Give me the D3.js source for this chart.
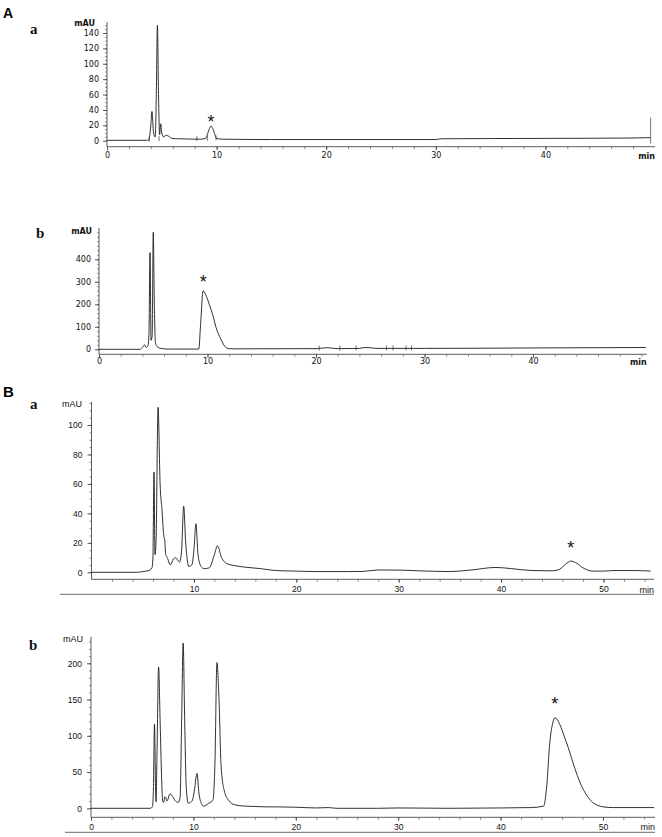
<!DOCTYPE html>
<html>
<head>
<meta charset="utf-8">
<script src="https://cdn.jsdelivr.net/npm/d3@7"></script>
<style>
  body { margin: 0; background: #fff; }
  svg { display: block; }
</style>
</head>
<body>
<div id="chart"></div>
<script>
// traces: [time (min), signal (mAU)]
var traceAa = [[0,0.5],[3.6,0.5],[3.8,1],[4.0,20],[4.1,38],[4.25,10],[4.4,5],[4.5,60],[4.6,150],[4.7,60],
  [4.8,8],[4.9,22],[5.0,10],[5.15,5],[5.4,7],[5.6,6],[5.9,3],[6.5,2.5],[8.5,2],[9.0,3],[9.3,14],[9.5,19],
  [9.7,14],[10.0,3],[10.5,2],[15,1.5],[20,1.5],[30,1.5],[30.5,2.5],[40,3],[48,3.5],[49.6,4]];

var traceAb = [[0,0],[3.8,0],[4.0,8],[4.2,20],[4.35,8],[4.5,15],[4.6,60],[4.7,430],[4.8,40],[4.9,60],
  [5.0,520],[5.1,200],[5.2,30],[5.4,10],[5.8,3],[6.5,1],[9.2,1],[9.35,100],[9.6,260],[9.9,235],[10.2,195],
  [10.5,150],[10.8,95],[11.2,48],[11.5,20],[11.8,5],[12.3,2],[20,3],[20.5,5],[21,7],[21.5,5],[22,3],
  [24,4],[24.5,8],[25,7],[25.6,4],[30,4],[40,6],[50.4,8]];

var traceBa = [[0,0],[4.5,0],[5.0,0.5],[5.5,1],[5.9,3],[6.0,10],[6.1,68],[6.2,12],[6.3,20],[6.5,112],
  [6.7,60],[6.9,41],[7.05,25],[7.15,22],[7.25,12],[7.4,10],[7.7,5],[8.0,9],[8.2,10],[8.6,7],[8.8,15],
  [9.0,45],[9.2,20],[9.5,4],[9.8,5],[10.0,15],[10.2,33],[10.4,12],[10.7,4],[11.0,2.5],[11.5,3],[12.0,12],
  [12.3,18],[12.7,10],[13.2,6],[14,4.5],[15,3.5],[16.5,2.5],[18,1.2],[20,0.8],[22,0.5],[25,0.5],[26.5,0.6],
  [28,1.6],[30,1.5],[32,1.0],[35,0.5],[37,1.5],[39.5,3.3],[41,2.5],[43,1.2],[45,1.0],[45.7,2],[46.3,5.5],
  [46.8,7.6],[47.3,6.5],[48,3],[49,0.8],[50,0.8],[51,1.2],[53,1.2],[54.6,0.8]];

var traceBb = [[0,0],[5.8,0],[6.0,2],[6.1,30],[6.2,116],[6.3,30],[6.35,9],[6.45,80],[6.6,195],[6.75,120],
  [6.9,40],[7.0,10],[7.1,8],[7.2,16],[7.3,15],[7.4,10],[7.5,12],[7.7,20],[7.9,18],[8.2,11],[8.5,8],[8.7,15],
  [8.85,120],[9.0,228],[9.15,120],[9.3,30],[9.5,7],[9.7,8],[9.9,11],[10.1,25],[10.35,48],[10.55,20],
  [10.8,6],[11.0,3],[11.5,7],[11.9,11],[12.1,60],[12.3,201],[12.5,150],[12.7,60],[13.0,25],[13.5,10],
  [14,5],[15,3],[16,2.5],[17,2],[18,2],[20,1.5],[22,0.5],[23.2,1],[24,0],[28,0],[30,0.5],[35,0],[40,0.5],
  [43,1],[44.2,3],[44.5,30],[44.8,90],[45.1,118],[45.3,125],[45.5,123],[45.8,115],[46.2,100],[46.6,84],
  [47.0,66],[47.5,45],[48.0,28],[48.5,16],[49.0,8],[49.5,4],[50.0,2],[51,1],[55,1]];

// asterisk peaks [time, mAU]
var starAa = [9.5, 19], starAb = [9.6, 260], starBa = [46.8, 7.6], starBb = [45.3, 125];

// integrator marks on the baseline [time, mAU]
var marksAa = [[3.85,1],[4.75,2],[8.2,2],[9.15,2.5],[9.95,3]];
var marksAb = [[20.3,3],[22.2,3],[23.7,4],[26.5,4],[27.1,4],[28.3,4],[28.8,4]];

// tick labels
var ticksAa = [0,20,40,60,80,100,120,140];
var ticksAb = [0,100,200,300,400];
var ticksBa = [0,20,40,60,80,100];
var ticksBb = [0,50,100,150,200];
var timeTicksA = [0,10,20,30,40];
var timeTicksBa = [10,20,30,40,50];
var timeTicksBb = [0,10,20,30,40,50];

var svg = d3.select("#chart").append("svg")
    .attr("width", 662)
    .attr("height", 837);

svg.append("rect").attr("width", 662).attr("height", 837).attr("fill", "#fff");

function drawPanel(p) {
  var g = svg.append("g");

  var x = d3.scaleLinear().domain([0, 50]).range([p.x0, p.x50]);
  var y = d3.scaleLinear().domain([0, p.yRef]).range([p.y0, p.yRefPx]);

  // y axis line from x axis up to top
  g.append("line")
      .attr("x1", p.x0).attr("x2", p.x0)
      .attr("y1", p.axisY).attr("y2", p.yTopPx)
      .attr("stroke", "#333").attr("stroke-width", 0.8);

  // minor y ticks
  var yMax = y.invert(p.yTopPx);
  g.append("g")
      .attr("transform", "translate(" + p.x0 + ",0)")
      .call(d3.axisLeft(y).tickValues(d3.range(0, yMax, p.yMinor)).tickSize(2).tickFormat(""))
      .call(function(a) { a.select(".domain").remove(); a.selectAll("line").attr("stroke", "#444").attr("stroke-width", 0.6); });

  g.append("g")
      .attr("transform", "translate(" + p.x0 + ",0)")
      .call(d3.axisLeft(y).tickValues(p.yTicks).tickSize(4).tickPadding(p.yPad))
      .call(function(a) {
        a.select(".domain").remove();
        a.selectAll("line").attr("stroke", "#333").attr("stroke-width", 0.8);
        a.selectAll("text").attr("font-family", p.font).attr("font-size", p.fs).attr("fill", "#111");
      });

  // x axis
  g.append("line")
      .attr("x1", p.x0).attr("x2", p.xEndPx)
      .attr("y1", p.axisY).attr("y2", p.axisY)
      .attr("stroke", "#333").attr("stroke-width", 0.8);

  var xMax = x.invert(p.xEndPx);
  g.append("g")
      .attr("transform", "translate(0," + p.axisY + ")")
      .call(d3.axisBottom(x).tickValues(d3.range(2, xMax, 2)).tickSize(2.5).tickFormat(""))
      .call(function(a) { a.select(".domain").remove(); a.selectAll("line").attr("stroke", "#444").attr("stroke-width", 0.6); });

  g.append("g")
      .attr("transform", "translate(0," + p.axisY + ")")
      .call(d3.axisBottom(x).tickValues(p.xTicks).tickSize(3.5).tickPadding(p.xPad))
      .call(function(a) {
        a.select(".domain").remove();
        a.selectAll("line").attr("stroke", "#333").attr("stroke-width", 0.8);
        a.selectAll("text").attr("font-family", p.font).attr("font-size", p.fs).attr("fill", "#111");
      });

  if (p.underline) {
    g.append("line")
        .attr("x1", p.underline[0]).attr("x2", p.xEndPx)
        .attr("y1", p.underline[1]).attr("y2", p.underline[1])
        .attr("stroke", "#444").attr("stroke-width", 0.8);
  }

  // "min" at the right end of the time axis
  g.append("text")
      .attr("x", p.xEndPx)
      .attr("y", p.minY)
      .attr("text-anchor", "end")
      .attr("font-family", p.font)
      .attr("font-weight", p.unitWeight)
      .attr("font-size", p.unitFs)
      .attr("fill", "#111")
      .text("min");

  // "mAU" at the top of the y axis
  g.append("text")
      .attr("x", p.mauX)
      .attr("y", p.mauY)
      .attr("text-anchor", "end")
      .attr("font-family", p.font)
      .attr("font-weight", p.unitWeight)
      .attr("font-size", p.unitFs)
      .attr("fill", "#111")
      .text("mAU");

  // trace
  var line = d3.line()
      .x(function(d) { return x(d[0]); })
      .y(function(d) { return y(d[1]); })
      .curve(d3.curveMonotoneX);

  g.append("path")
      .datum(p.trace)
      .attr("fill", "none")
      .attr("stroke", "#1a1a1a")
      .attr("stroke-width", 0.9)
      .attr("d", line);

  if (p.marks) {
    g.selectAll(".mark")
      .data(p.marks)
      .enter().append("line")
        .attr("x1", function(d) { return x(d[0]); })
        .attr("x2", function(d) { return x(d[0]); })
        .attr("y1", function(d) { return y(d[1]) - 3; })
        .attr("y2", function(d) { return y(d[1]) + 2; })
        .attr("stroke", "#333").attr("stroke-width", 0.7);
  }

  if (p.endMark) {
    g.append("line")
        .attr("x1", x(p.endMark[0])).attr("x2", x(p.endMark[0]))
        .attr("y1", p.axisY - 3).attr("y2", y(p.endMark[1]))
        .attr("stroke", "#555").attr("stroke-width", 0.8);
  }

  // asterisk over the peak of interest
  g.append("text")
      .attr("x", x(p.star[0]))
      .attr("y", y(p.star[1]) - p.starGap)
      .attr("dy", "0.58em")
      .attr("text-anchor", "middle")
      .attr("font-family", "Liberation Sans, Arial, sans-serif")
      .attr("font-size", 18)
      .attr("fill", "#111")
      .text("*");

  // sub-panel letter
  g.append("text")
      .attr("x", p.sub[0])
      .attr("y", p.sub[1])
      .attr("font-family", "Liberation Serif, Times New Roman, serif")
      .attr("font-weight", "bold")
      .attr("font-size", 15)
      .attr("fill", "#111")
      .text(p.subText);
}

drawPanel({
  trace: traceAa, star: starAa, starGap: 9, marks: marksAa, endMark: [49.6, 30],
  x0: 107, x50: 655, xEndPx: 655, axisY: 146.7,
  yRef: 140, y0: 140.7, yRefPx: 33, yTopPx: 22, yTicks: ticksAa, yMinor: 5,
  xTicks: timeTicksA, xPad: 2, yPad: 4,
  font: "DejaVu Sans, sans-serif", fs: 8, unitFs: 8, unitWeight: "bold",
  mauX: 95, mauY: 26, minY: 159,
  sub: [30, 34], subText: "a"
});

drawPanel({
  trace: traceAb, star: starAb, starGap: 13, marks: marksAb,
  x0: 99, x50: 641.5, xEndPx: 646.7, axisY: 354.3,
  yRef: 400, y0: 349.3, yRefPx: 259.3, yTopPx: 228, yTicks: ticksAb, yMinor: 20,
  xTicks: timeTicksA, xPad: 0.5, yPad: 4,
  font: "DejaVu Sans, sans-serif", fs: 8, unitFs: 8, unitWeight: "bold",
  mauX: 92, mauY: 234, minY: 365,
  sub: [36, 238], subText: "b"
});

drawPanel({
  trace: traceBa, star: starBa, starGap: 18,
  x0: 91.5, x50: 603.5, xEndPx: 654, axisY: 579.3,
  yRef: 100, y0: 572.3, yRefPx: 425, yTopPx: 401.7, yTicks: ticksBa, yMinor: 5,
  xTicks: timeTicksBa, xPad: 3.5, yPad: 5,
  font: "Liberation Sans, Arial, sans-serif", fs: 8.5, unitFs: 9, unitWeight: "normal",
  mauX: 82, mauY: 407, minY: 592.5, underline: [60, 594.3],
  sub: [30, 409], subText: "a"
});

drawPanel({
  trace: traceBb, star: starBb, starGap: 18,
  x0: 91, x50: 603, xEndPx: 655, axisY: 817.3,
  yRef: 200, y0: 808.3, yRefPx: 663.3, yTopPx: 636.7, yTicks: ticksBb, yMinor: 10,
  xTicks: timeTicksBb, xPad: 3.5, yPad: 5,
  font: "Liberation Sans, Arial, sans-serif", fs: 8.5, unitFs: 9, unitWeight: "normal",
  mauX: 83, mauY: 642, minY: 830, underline: [65, 832.3],
  sub: [29, 650], subText: "b"
});

// figure part letters
svg.append("text")
    .attr("x", 3).attr("y", 18)
    .attr("font-family", "Liberation Sans, Arial, sans-serif")
    .attr("font-weight", "bold")
    .attr("font-size", 14)
    .text("A");

svg.append("text")
    .attr("x", 3).attr("y", 397)
    .attr("font-family", "Liberation Sans, Arial, sans-serif")
    .attr("font-weight", "bold")
    .attr("font-size", 15)
    .text("B");
</script>
</body>
</html>
